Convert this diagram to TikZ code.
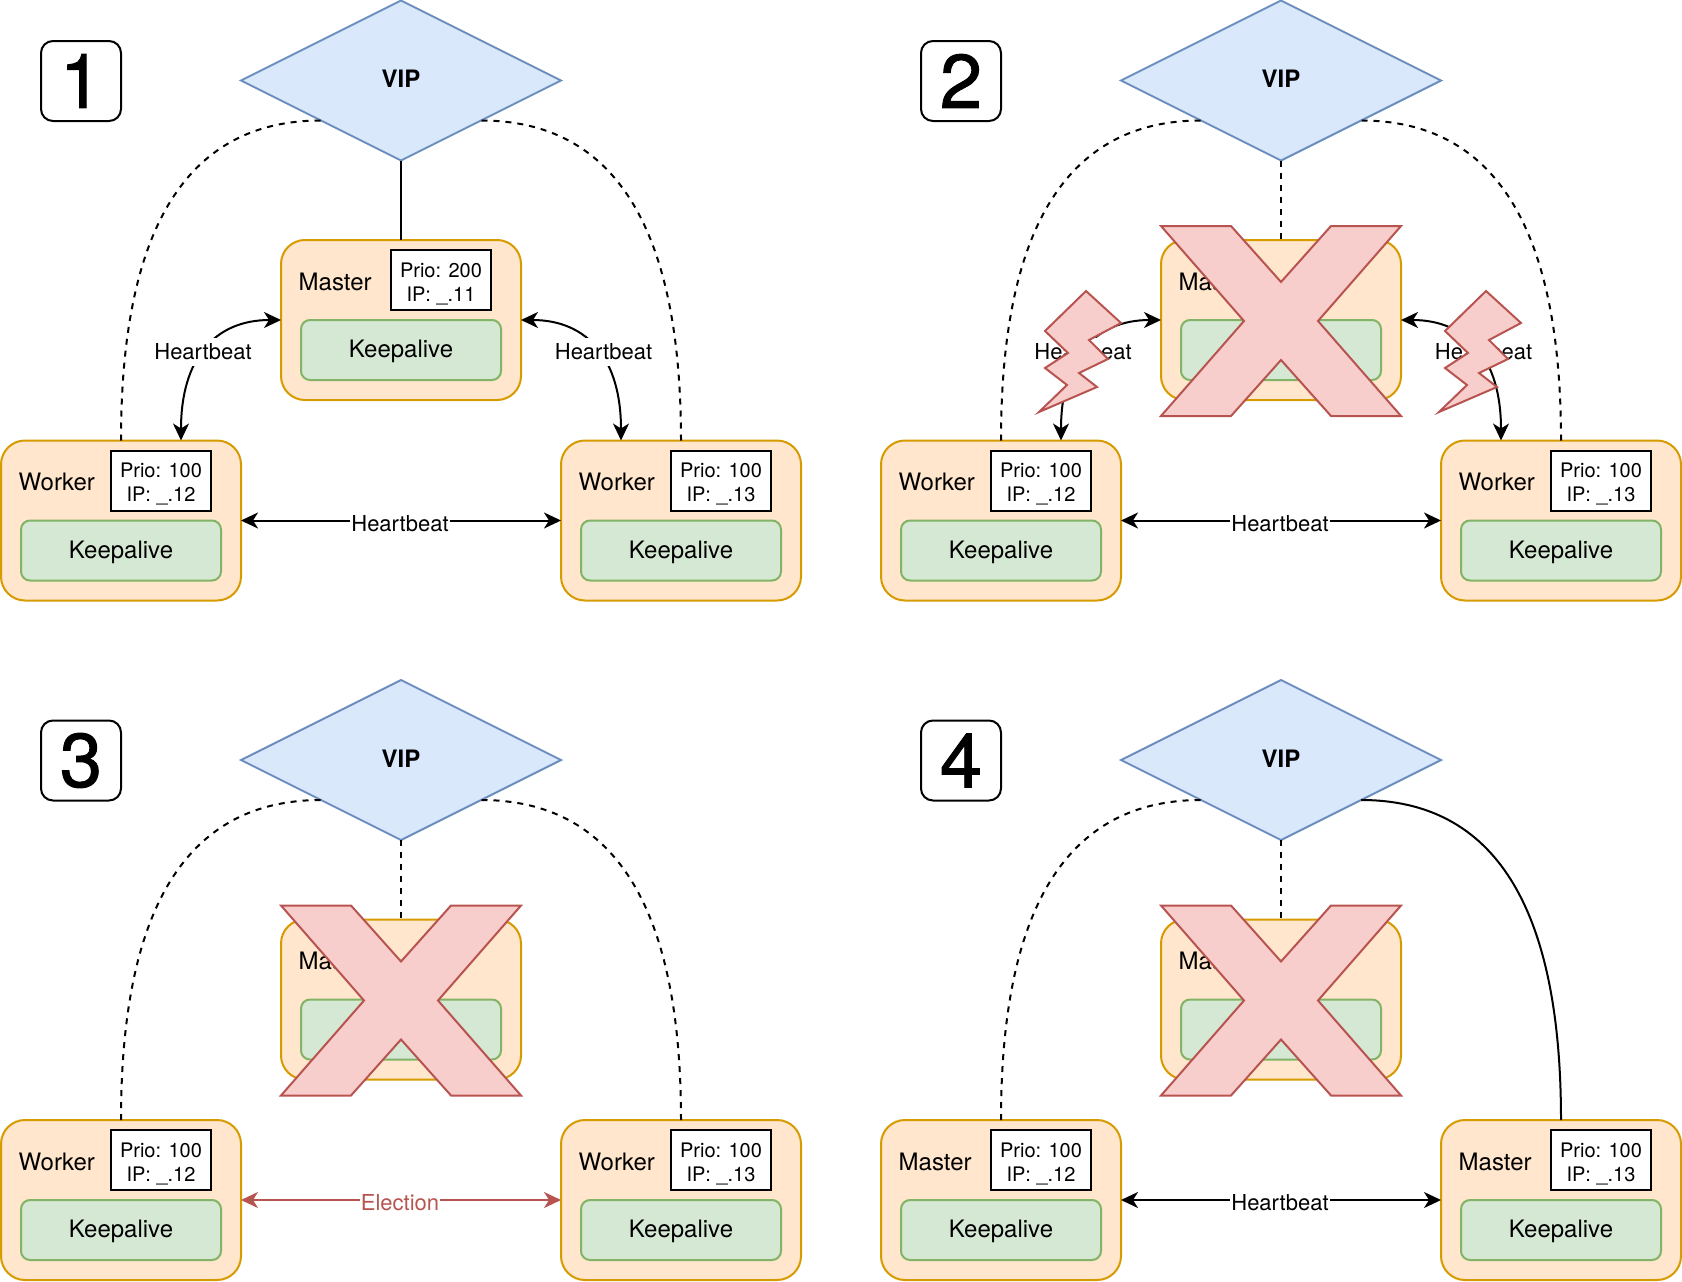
\documentclass[tikz,border=0pt]{standalone}
\usepackage{fontspec}
\setmainfont{TeX Gyre Heros}
\newfontfamily\digitfont[FakeBold=1.2]{TeX Gyre Heros}
\usetikzlibrary{arrows.meta, shapes.geometric}
\definecolor{vipfill}{HTML}{DAE8FC}
\definecolor{vipline}{HTML}{6C8EBF}
\definecolor{hostfill}{HTML}{FFE6CC}
\definecolor{hostline}{HTML}{D79B00}
\definecolor{kafill}{HTML}{D5E8D4}
\definecolor{kaline}{HTML}{82B366}
\definecolor{failfill}{HTML}{F8CECC}
\definecolor{failline}{HTML}{B85450}
% move text inside its node, leaving the node where it is
\newcommand{\nudge}[2]{\raisebox{#1}[\height][\depth]{#2}}

\begin{document}
\begin{tikzpicture}[x=1pt, y=-1pt, >={Stealth[length=17pt, width=16pt, inset=5pt]},
      vip/.style={diamond, draw=vipline, fill=vipfill, line width=2pt, inner sep=0pt, outer sep=0pt, shape aspect=2,
                  minimum width=320pt, minimum height=160pt, font=\fontsize{24}{28}\selectfont\bfseries},
      host/.style={draw=hostline, fill=hostfill, line width=2pt, rounded corners=24pt, outer sep=0pt,
                   minimum width=240pt, minimum height=160pt, anchor=north west},
      kabox/.style={draw=kaline, fill=kafill, line width=2pt, rounded corners=9pt, outer sep=0pt,
                    minimum width=200pt, minimum height=60pt, anchor=north west, font=\fontsize{24}{28}\selectfont},
      role/.style={anchor=west, inner sep=0pt, font=\fontsize{24}{28}\selectfont},
      prio/.style={draw, fill=white, line width=2pt, outer sep=0pt, minimum width=100pt, minimum height=60pt,
                   inner sep=0pt, anchor=north west, font=\fontsize{20}{24}\selectfont},
      numbox/.style={draw, fill=white, line width=2pt, rounded corners=12pt, outer sep=0pt, inner sep=0pt,
                     minimum size=80pt, font=\digitfont\fontsize{76}{90}\selectfont},
      hbeat/.style={fill=white, inner xsep=1pt, inner ysep=0pt, minimum height=28pt, font=\fontsize{22}{26}\selectfont},
      link/.style={line width=2pt},
      dlink/.style={line width=2pt, dash pattern=on 6pt off 6pt},
      fail/.style={draw=failline, fill=failfill, line width=2pt, line join=miter}]

    \useasboundingbox (0,0) rectangle (1682,1282);

    % #1=name, #2=x, #3=y, #4=role text, #5=keepalive text
    \newcommand{\hostbox}[5]{%
        \node[host] (#1) at (#2,#3) {};
        \node[kabox] (#1k) at (#2+20,#3+80) {\nudge{-1.5pt}{#5}};
        \node[role] (#1r) at (#2+17.5,#3+41.5) {#4};
    }
    % #1=name, #2=x, #3=y, #4=prio, #5=ip
    \newcommand{\priobox}[5]{%
        \node[prio] (#1p) at (#2+110,#3+10) {\nudge{-4.5pt}{\begin{tabular}{@{}c@{}}Prio: #4\\IP: \_.#5\end{tabular}}};
    }
    % #1=panel, #2=digit, #3=left role, #4=right role
    \newcommand{\panelbase}[4]{%
        \node[numbox] (#1n) at (81,81) {#2};
        \node[vip] (#1v) at (401,80.5) {\nudge{1.5pt}{VIP}};
        \hostbox{#1l}{1}{440.5}{#3}{Keepalive}
        \priobox{#1l}{1}{440.5}{100}{12}
        \hostbox{#1w}{561}{440.5}{#4}{Keepalive}
        \priobox{#1w}{561}{440.5}{100}{13}
        \draw[dlink] (#1l.north) .. controls +(0,-214) and +(-133,0) .. (#1v.south west);
    }
    % #1=panel, heartbeats to and from the master
    \newcommand{\masterbeats}[1]{%
        \draw[link, <->] (#1m.west) .. controls +(-67,0) and +(0,-81) .. ([xshift=60pt]#1l.north);
        \draw[link, <->] (#1m.east) .. controls +(67,0) and +(0,-81) .. ([xshift=-60pt]#1w.north);
        \node[hbeat] (#1hl) at (203,352) {Heartbeat};
        \node[hbeat] (#1hr) at (603.5,352) {Heartbeat};
    }
    \newcommand{\crossout}{%
        \draw[fail] (281,226) -- (351,226) -- (401,282) -- (451,226) -- (521,226) -- (438,321)
            -- (521,416) -- (451,416) -- (401,360) -- (351,416) -- (281,416) -- (364,321) -- cycle;
    }
    % #1=x offset of the bolt
    \newcommand{\bolt}[1]{%
        \begin{scope}[shift={(#1,0)}]
        \draw[fail] (206,291) -- (241,323) -- (209,340) -- (228,359) -- (199,373) -- (217,387)
            -- (159,412) -- (187,385) -- (165,368) -- (188,353) -- (165,331) -- cycle;
        \end{scope}
    }

    % Panel 1
    \begin{scope}
    \panelbase{a}{1}{Worker}{Worker}
    \hostbox{am}{281}{240}{Master}{Keepalive}
    \priobox{am}{281}{240}{200}{11}
    \draw[dlink] (aw.north) .. controls +(0,-214) and +(133,0) .. (av.south east);
    \draw[link] (av.south) -- (am.north);
    \masterbeats{a}
    \draw[link, <->] (al.east |- alk.north) -- (aw.west |- awk.north) node[hbeat, midway, xshift=-1pt, yshift=-3pt] (ahb) {Heartbeat};
    \end{scope}

    % Panel 2
    \begin{scope}[shift={(880,0)}]
    \panelbase{b}{2}{Worker}{Worker}
    \hostbox{bm}{281}{240}{Master}{}
    \draw[dlink] (bw.north) .. controls +(0,-214) and +(133,0) .. (bv.south east);
    \draw[dlink] (bv.south) -- (bm.north);
    \masterbeats{b}
    \draw[link, <->] (bl.east |- blk.north) -- (bw.west |- bwk.north) node[hbeat, midway, xshift=-1pt, yshift=-3pt] (bhb) {Heartbeat};
    \crossout
    \bolt{0}
    \bolt{400}
    \end{scope}

    % Panel 3
    \begin{scope}[shift={(0,679.5)}]
    \panelbase{c}{3}{Worker}{Worker}
    \hostbox{cm}{281}{240}{Master}{}
    \draw[dlink] (cw.north) .. controls +(0,-214) and +(133,0) .. (cv.south east);
    \draw[dlink] (cv.south) -- (cm.north);
    \draw[link, <->, failline] (cl.east |- clk.north) -- (cw.west |- cwk.north) node[hbeat, midway, xshift=-1pt, yshift=-3pt, text=failline] (chb) {Election};
    \crossout
    \end{scope}

    % Panel 4
    \begin{scope}[shift={(880,679.5)}]
    \panelbase{d}{4}{Master}{Master}
    \hostbox{dm}{281}{240}{Master}{}
    \draw[link] (dw.north) .. controls +(0,-214) and +(133,0) .. (dv.south east);
    \draw[dlink] (dv.south) -- (dm.north);
    \draw[link, <->] (dl.east |- dlk.north) -- (dw.west |- dwk.north) node[hbeat, midway, xshift=-1pt, yshift=-3pt] (dhb) {Heartbeat};
    \crossout
    \end{scope}

\end{tikzpicture}
\end{document}
